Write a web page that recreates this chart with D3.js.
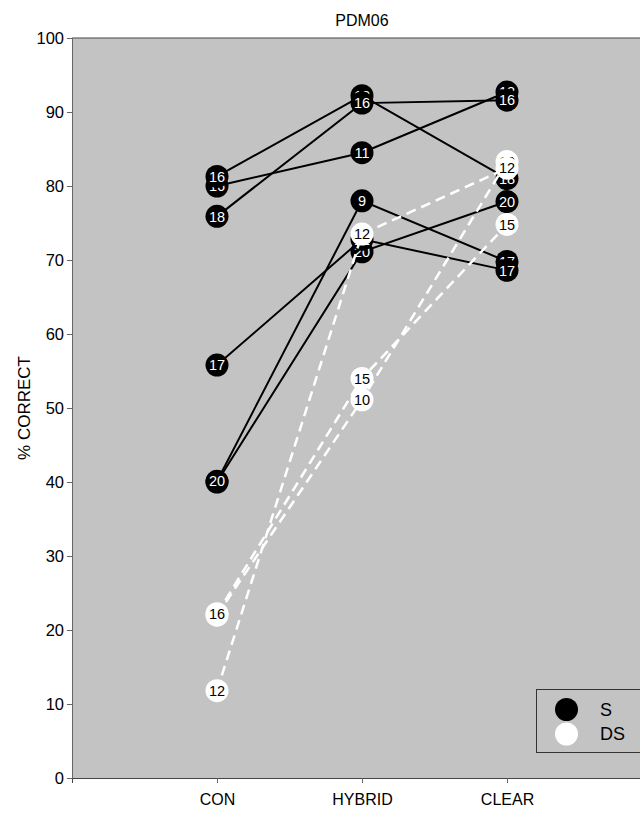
<!DOCTYPE html>
<html><head><meta charset="utf-8">
<script src="https://d3js.org/d3.v7.min.js"></script>
<style>body{margin:0;background:#fff}svg{display:block}</style>
</head><body>
<script>
const categories = ["CON", "HYBRID", "CLEAR"];
const yTicks = [0, 10, 20, 30, 40, 50, 60, 70, 80, 90, 100];
const title = "PDM06";
const yLabel = "% CORRECT";
const legendNames = ["S", "DS"];

// S (black) subjects, in drawing order: values and point labels per condition
const sValues = [
  [80.0, 84.5, 92.7],
  [81.3, 92.2, 81.0],
  [75.9, 91.2, 91.6],
  [40.0, 71.1, 77.9],
  [40.1, 78.0, 69.8],
  [55.8, 72.8, 68.6]
];
const sLabels = [
  ["16", "11", "18"],
  ["16", "18", "18"],
  ["18", "16", "16"],
  ["20", "20", "20"],
  ["20", "9", "17"],
  ["17", "12", "17"]
];
// DS (white) subjects
const dsValues = [
  [22.0, 51.1, 83.3],
  [22.2, 54.0, 74.8],
  [11.8, 73.5, 82.4]
];
const dsLabels = [
  ["18", "10", "10"],
  ["16", "15", "15"],
  ["12", "12", "12"]
];

const W = 640, H = 813;
const svg = d3.select("body").append("svg").attr("width", W).attr("height", H);
const x = d3.scaleLinear().domain([0, categories.length + 1]).range([72, 652]);
const y = d3.scaleLinear().domain([0, 100]).range([778, 38]);

svg.append("rect").attr("x", x(0)).attr("y", y(100))
  .attr("width", x(4) - x(0)).attr("height", y(0) - y(100)).attr("fill", "#c3c3c3");
svg.append("line").attr("x1", x(0)).attr("x2", x(4)).attr("y1", y(100)).attr("y2", y(100))
  .attr("stroke", "#444").attr("stroke-width", 1);

const font = "Liberation Sans, Arial, sans-serif";

const yAxis = svg.append("g").attr("transform", `translate(${x(0)},0)`)
  .call(d3.axisLeft(y).tickValues(yTicks).tickSize(5).tickPadding(3).tickFormat(d3.format("d")));
yAxis.select(".domain").attr("stroke", "#666");
yAxis.selectAll(".tick line").attr("stroke", "#666");
yAxis.selectAll("text").attr("font-family", font).attr("font-size", 16.5).attr("fill", "#000");

const xAxis = svg.append("g").attr("transform", `translate(0,${y(0)})`)
  .call(d3.axisBottom(x).tickValues(categories.map((c, i) => i + 1)).tickSize(5).tickPadding(11)
    .tickFormat((d) => categories[d - 1]));
xAxis.select(".domain").attr("stroke", "#444");
xAxis.selectAll(".tick line").attr("stroke", "#666");
xAxis.selectAll("text").attr("font-family", font).attr("font-size", 16).attr("fill", "#000");

svg.append("text").attr("x", x(2)).attr("y", 26).attr("text-anchor", "middle")
  .attr("font-family", font).attr("font-size", 16).text(title);
svg.append("text").attr("transform", `translate(30,${(y(0) + y(100)) / 2}) rotate(-90)`)
  .attr("text-anchor", "middle").attr("font-family", font).attr("font-size", 17).text(yLabel);

const line = d3.line().x((d, i) => x(i + 1)).y((d) => y(d));
const R = 11.5;

function drawSeries(vals, labs, fill, txt, stroke, dash, sw) {
  vals.forEach((v, k) => {
    svg.append("path").attr("d", line(v)).attr("fill", "none").attr("stroke", stroke)
      .attr("stroke-width", sw).attr("stroke-dasharray", dash);
  });
  vals.forEach((v, k) => {
    const g = svg.append("g");
    v.forEach((d, i) => {
      g.append("circle").attr("cx", x(i + 1)).attr("cy", y(d)).attr("r", R).attr("fill", fill);
      g.append("text").attr("x", x(i + 1)).attr("y", y(d)).attr("dy", "0.36em")
        .attr("text-anchor", "middle").attr("font-family", font).attr("font-size", 14.5)
        .attr("fill", txt).text(labs[k][i]);
    });
  });
}
drawSeries(sValues, sLabels, "#000", "#fff", "#000", null, 2);
drawSeries(dsValues, dsLabels, "#fff", "#000", "#fff", "10,6", 2.5);

// legend
const lg = svg.append("g");
lg.append("rect").attr("x", 536.5).attr("y", 689.5).attr("width", 120).attr("height", 63)
  .attr("fill", "none").attr("stroke", "#333").attr("stroke-width", 1);
[["#000"], ["#fff"]].forEach((c, i) => {
  lg.append("circle").attr("cx", 566.5).attr("cy", 709.5 + i * 24.5).attr("r", R).attr("fill", c[0]);
  lg.append("text").attr("x", 600).attr("y", 709.5 + i * 24.5).attr("dy", "0.36em")
    .attr("font-family", font).attr("font-size", 18).text(legendNames[i]);
});
</script>
</body></html>
